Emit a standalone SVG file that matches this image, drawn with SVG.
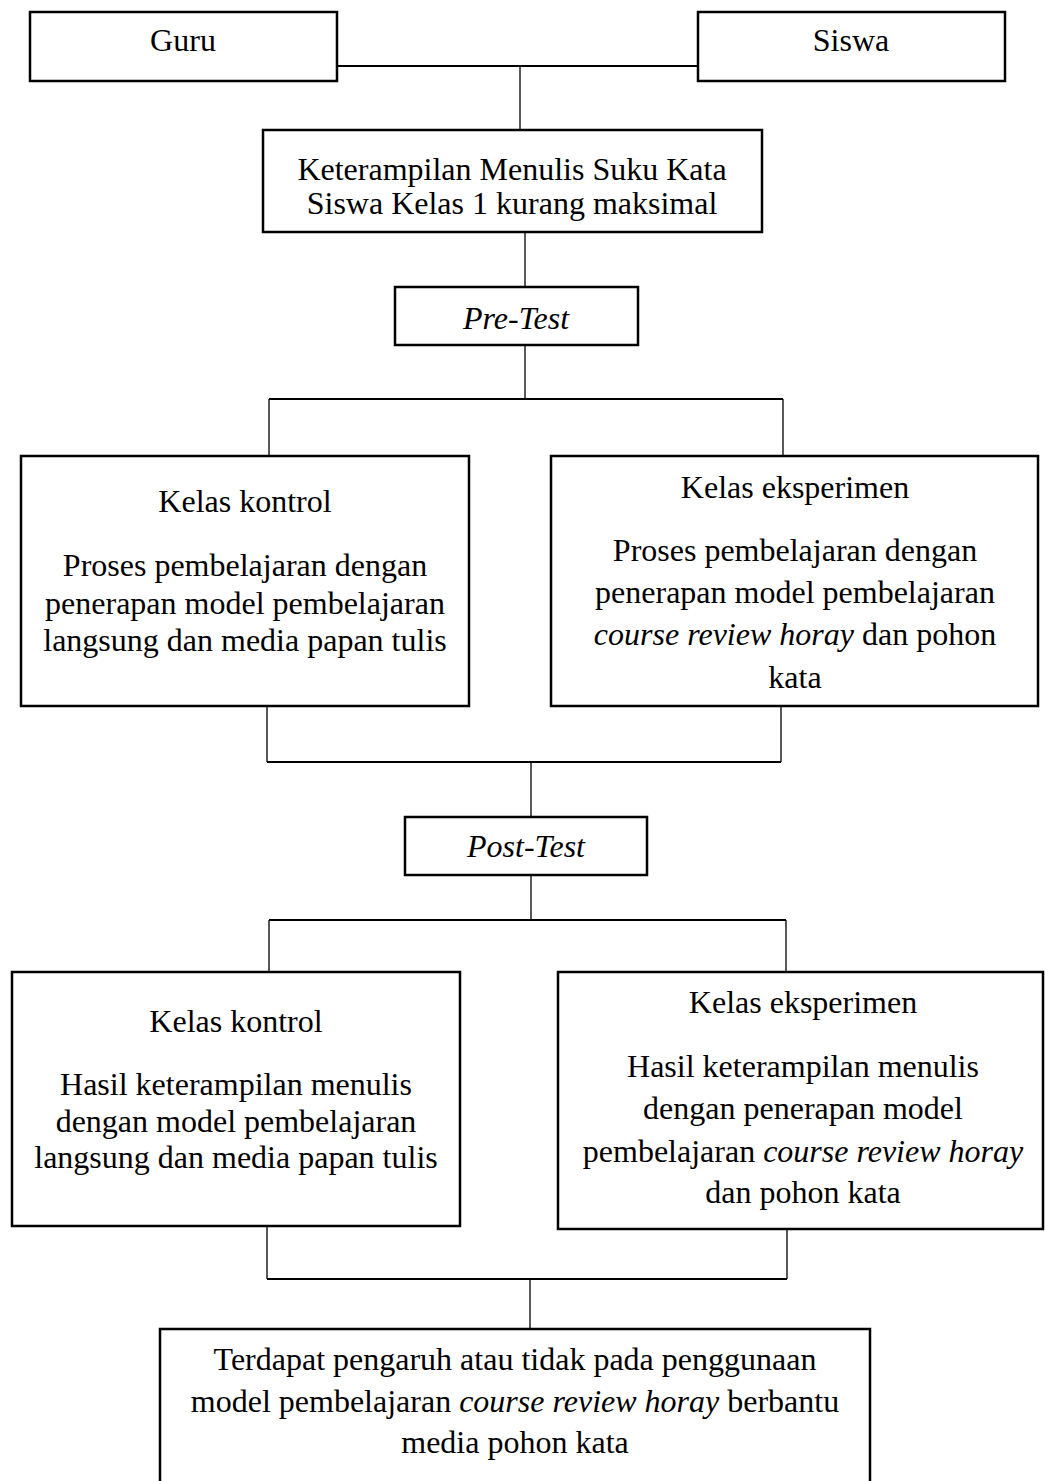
<svg xmlns="http://www.w3.org/2000/svg" width="1045" height="1481" viewBox="0 0 1045 1481">
<style>
.box{fill:#fff;stroke:#000;stroke-width:2.5}
.ln{fill:none;stroke:#000;stroke-width:1.3}
.hl{fill:none;stroke:#000;stroke-width:2}
text{font-family:"Liberation Serif","Times New Roman",serif;font-size:32px;fill:#000;text-anchor:middle}
.i{font-style:italic}
</style>
<rect width="1045" height="1481" fill="#fff"/>
<g id="connectors">
<path class="hl" d="M337 66H698"/>
<path class="ln" d="M520 66V130"/>
<path class="ln" d="M525 232V287"/>
<path class="ln" d="M525 345V399"/>
<path class="hl" d="M269 399H783"/>
<path class="ln" d="M269 399V456M783 399V456"/>
<path class="ln" d="M267 706V762M781 706V762"/>
<path class="hl" d="M267 762H781"/>
<path class="ln" d="M531 762V817"/>
<path class="ln" d="M531 875V920"/>
<path class="hl" d="M269 920H786"/>
<path class="ln" d="M269 920V972M786 920V972"/>
<path class="ln" d="M267 1226V1279M787 1230V1279"/>
<path class="hl" d="M267 1279H787"/>
<path class="ln" d="M530 1279V1329"/>
</g>
<g id="guru"><rect class="box" x="30" y="12" width="307" height="69"/><text x="183" y="51">Guru</text></g>
<g id="siswa"><rect class="box" x="698" y="12" width="307" height="69"/><text x="851" y="51">Siswa</text></g>
<g id="masalah"><rect class="box" x="263" y="130" width="499" height="102"/><text x="512" y="180">Keterampilan Menulis Suku Kata</text><text x="512" y="214">Siswa Kelas 1 kurang maksimal</text></g>
<g id="pretest"><rect class="box" x="395" y="287" width="243" height="58"/><text class="i" x="516" y="329">Pre-Test</text></g>
<g id="kontrol1"><rect class="box" x="21" y="456" width="448" height="250"/>
<text x="245" y="512">Kelas kontrol</text>
<text x="245" y="576">Proses pembelajaran dengan</text>
<text x="245" y="614">penerapan model pembelajaran</text>
<text x="245" y="651">langsung dan media papan tulis</text></g>
<g id="eksperimen1"><rect class="box" x="551" y="456" width="487" height="250"/>
<text x="795" y="498">Kelas eksperimen</text>
<text x="795" y="561">Proses pembelajaran dengan</text>
<text x="795" y="603">penerapan model pembelajaran</text>
<text x="795" y="645"><tspan class="i">course review horay</tspan> dan pohon</text>
<text x="795" y="688">kata</text></g>
<g id="posttest"><rect class="box" x="405" y="817" width="242" height="58"/><text x="526" y="857"><tspan class="i">Post</tspan>-<tspan class="i">Test</tspan></text></g>
<g id="kontrol2"><rect class="box" x="12" y="972" width="448" height="254"/>
<text x="236" y="1032">Kelas kontrol</text>
<text x="236" y="1095">Hasil keterampilan menulis</text>
<text x="236" y="1132">dengan model pembelajaran</text>
<text x="236" y="1168">langsung dan media papan tulis</text></g>
<g id="eksperimen2"><rect class="box" x="558" y="972" width="485" height="257"/>
<text x="803" y="1013">Kelas eksperimen</text>
<text x="803" y="1077">Hasil keterampilan menulis</text>
<text x="803" y="1119">dengan penerapan model</text>
<text x="803" y="1162">pembelajaran <tspan class="i">course review horay</tspan></text>
<text x="803" y="1203">dan pohon kata</text></g>
<g id="hasil"><rect class="box" x="160" y="1329" width="710" height="165"/>
<text x="515" y="1370">Terdapat pengaruh atau tidak pada penggunaan</text>
<text x="515" y="1412">model pembelajaran <tspan class="i">course review horay</tspan> berbantu</text>
<text x="515" y="1453">media pohon kata</text></g>
</svg>
